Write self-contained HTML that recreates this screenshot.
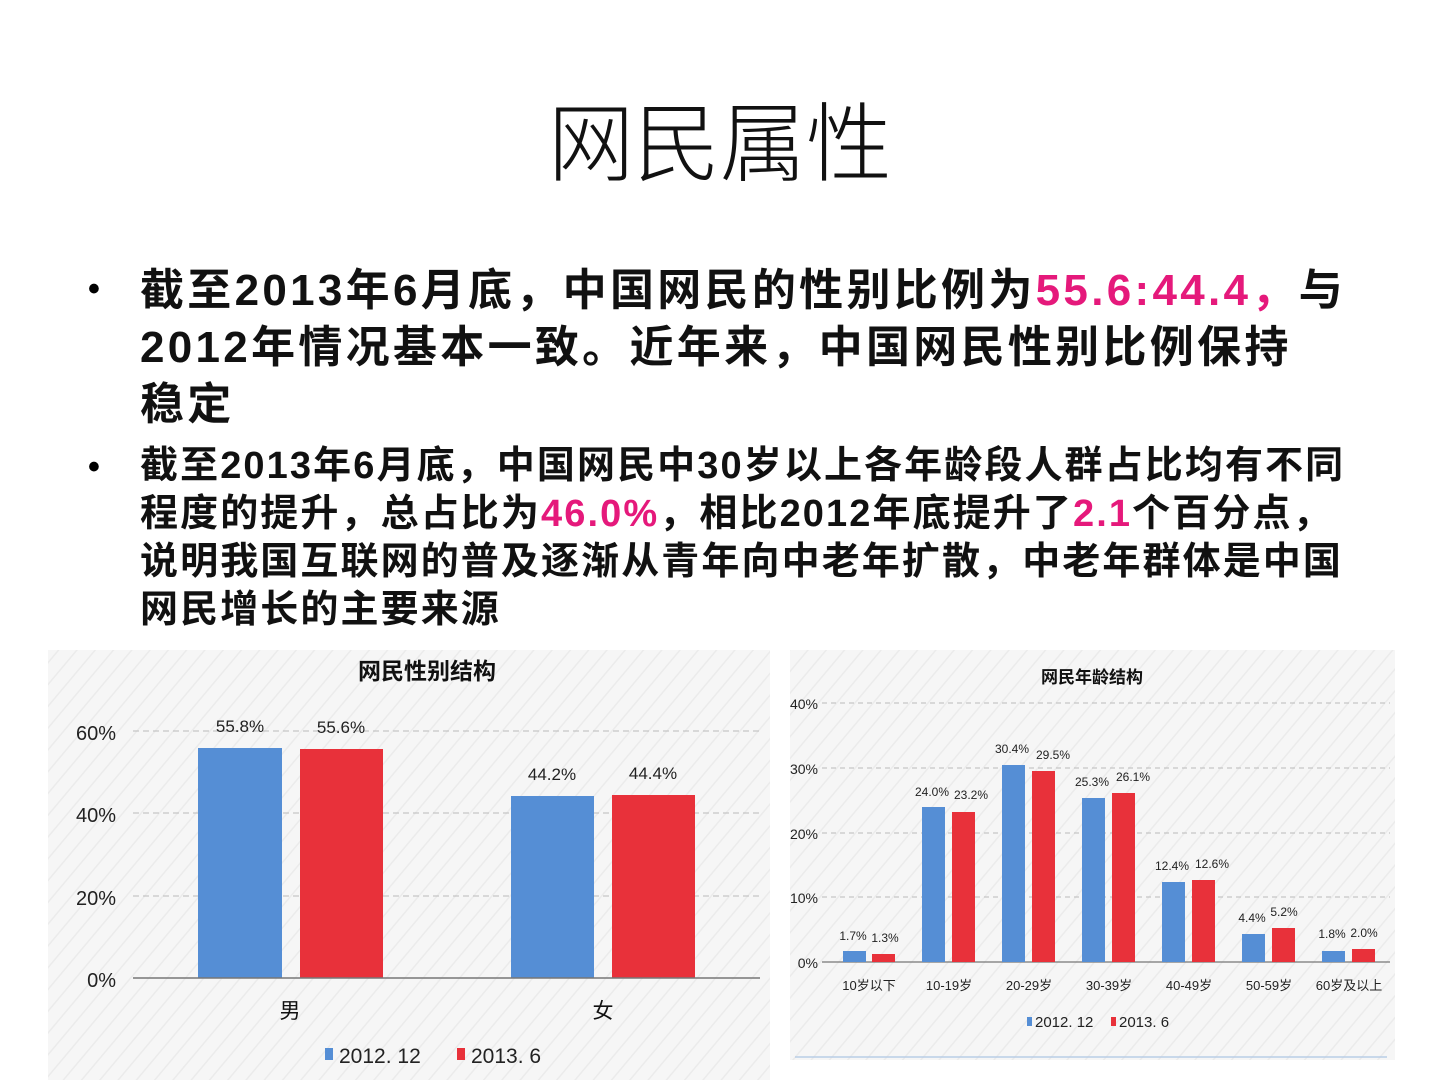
<!DOCTYPE html>
<html><head><meta charset="utf-8"><style>
body{margin:0;width:1440px;height:1080px;background:#fff;overflow:hidden;position:relative;font-family:"Liberation Sans","Noto Sans CJK SC",sans-serif}
.t{position:absolute;left:0;width:1440px;top:82px;text-align:center;font-size:86px;font-weight:300;color:#111;font-family:"Noto Sans CJK SC",sans-serif;line-height:110px}
.b{position:absolute;left:140px;color:#111;font-weight:bold;white-space:nowrap}
.b1{top:262px;font-size:44px;line-height:57px;letter-spacing:3.3px}
.b2{top:442px;font-size:38px;line-height:48px;letter-spacing:2.1px}
.d{position:absolute;left:88px;font-size:34px;font-weight:bold}
.p{color:#e5197b}
</style></head><body>
<div class="t">网民属性</div>
<div class="d" style="top:270px">•</div>
<div class="b b1">截至2013年6月底，中国网民的性别比例为<span class="p">55.6:44.4，</span>与<br>2012年情况基本一致。近年来，中国网民性别比例保持<br>稳定</div>
<div class="d" style="top:448px">•</div>
<div class="b b2">截至2013年6月底，中国网民中30岁以上各年龄段人群占比均有不同<br>程度的提升，总占比为<span class="p">46.0%</span>，相比2012年底提升了<span class="p">2.1</span>个百分点，<br>说明我国互联网的普及逐渐从青年向中老年扩散，中老年群体是中国<br>网民增长的主要来源</div>
<svg width="1440" height="1080" style="position:absolute;left:0;top:0" font-family="Liberation Sans,Noto Sans CJK SC,sans-serif">
<defs><pattern id="h" width="14" height="14" patternUnits="userSpaceOnUse" patternTransform="rotate(40)"><rect width="14" height="14" fill="#f6f6f6"/><line x1="0" y1="0" x2="0" y2="14" stroke="#ebebeb" stroke-width="3"/></pattern></defs>
<rect x="48" y="650" width="722" height="430" fill="url(#h)"/>
<rect x="790" y="650" width="605" height="410" fill="url(#h)"/>
<text x="427" y="679" font-size="23" font-weight="bold" text-anchor="middle" fill="#111">网民性别结构</text>
<g stroke="#bbb" stroke-dasharray="6,4"><line x1="133" y1="731" x2="760" y2="731"/><line x1="133" y1="813" x2="760" y2="813"/><line x1="133" y1="896" x2="760" y2="896"/></g>
<g font-size="20" fill="#222" text-anchor="end"><text x="116" y="740">60%</text><text x="116" y="822">40%</text><text x="116" y="905">20%</text><text x="116" y="987">0%</text></g>
<rect x="198" y="748" width="84" height="230" fill="#558ed5"/><rect x="300" y="749" width="83" height="229" fill="#e8313a"/>
<rect x="511" y="796" width="83" height="182" fill="#558ed5"/><rect x="612" y="795" width="83" height="183" fill="#e8313a"/>
<line x1="133" y1="978" x2="760" y2="978" stroke="#777" stroke-width="1.5"/>
<g font-size="17" fill="#222" text-anchor="middle"><text x="240" y="732">55.8%</text><text x="341" y="733">55.6%</text><text x="552" y="780">44.2%</text><text x="653" y="779">44.4%</text></g>
<g font-size="21" fill="#111" text-anchor="middle"><text x="290" y="1018">男</text><text x="603" y="1018">女</text></g>
<rect x="325" y="1048" width="8" height="12" fill="#558ed5"/><text x="339" y="1063" font-size="21" fill="#222">2012. 12</text>
<rect x="457" y="1048" width="8" height="12" fill="#e8313a"/><text x="471" y="1063" font-size="21" fill="#222">2013. 6</text>
<text x="1092" y="683" font-size="17" font-weight="bold" text-anchor="middle" fill="#111">网民年龄结构</text>
<g stroke="#bbb" stroke-dasharray="5,4"><line x1="822" y1="703" x2="1390" y2="703"/><line x1="822" y1="768" x2="1390" y2="768"/><line x1="822" y1="833" x2="1390" y2="833"/><line x1="822" y1="897" x2="1390" y2="897"/></g>
<g font-size="14" fill="#222" text-anchor="end"><text x="818" y="709">40%</text><text x="818" y="774">30%</text><text x="818" y="839">20%</text><text x="818" y="903">10%</text><text x="818" y="968">0%</text></g>
<line x1="822" y1="962" x2="1390" y2="962" stroke="#777" stroke-width="1.2"/>
<g font-size="12" fill="#222" text-anchor="middle">
<rect x="843" y="951" width="23" height="11" fill="#558ed5"/><rect x="872" y="954" width="23" height="8" fill="#e8313a"/><text x="853" y="940">1.7%</text><text x="885" y="942">1.3%</text><text x="869" y="990" font-size="13">10岁以下</text>
<rect x="922" y="807" width="23" height="155" fill="#558ed5"/><rect x="952" y="812" width="23" height="150" fill="#e8313a"/><text x="932" y="796">24.0%</text><text x="971" y="799">23.2%</text><text x="949" y="990" font-size="13">10-19岁</text>
<rect x="1002" y="765" width="23" height="197" fill="#558ed5"/><rect x="1032" y="771" width="23" height="191" fill="#e8313a"/><text x="1012" y="753">30.4%</text><text x="1053" y="759">29.5%</text><text x="1029" y="990" font-size="13">20-29岁</text>
<rect x="1082" y="798" width="23" height="164" fill="#558ed5"/><rect x="1112" y="793" width="23" height="169" fill="#e8313a"/><text x="1092" y="786">25.3%</text><text x="1133" y="781">26.1%</text><text x="1109" y="990" font-size="13">30-39岁</text>
<rect x="1162" y="882" width="23" height="80" fill="#558ed5"/><rect x="1192" y="880" width="23" height="82" fill="#e8313a"/><text x="1172" y="870">12.4%</text><text x="1212" y="868">12.6%</text><text x="1189" y="990" font-size="13">40-49岁</text>
<rect x="1242" y="934" width="23" height="28" fill="#558ed5"/><rect x="1272" y="928" width="23" height="34" fill="#e8313a"/><text x="1252" y="922">4.4%</text><text x="1284" y="916">5.2%</text><text x="1269" y="990" font-size="13">50-59岁</text>
<rect x="1322" y="951" width="23" height="11" fill="#558ed5"/><rect x="1352" y="949" width="23" height="13" fill="#e8313a"/><text x="1332" y="938">1.8%</text><text x="1364" y="937">2.0%</text><text x="1349" y="990" font-size="13">60岁及以上</text>
</g>
<rect x="1027" y="1017" width="5" height="9" fill="#558ed5"/><text x="1035" y="1027" font-size="15" fill="#222">2012. 12</text>
<rect x="1111" y="1017" width="5" height="9" fill="#e8313a"/><text x="1119" y="1027" font-size="15" fill="#222">2013. 6</text>
<line x1="795" y1="1057" x2="1387" y2="1057" stroke="#b9cde5" stroke-width="1.5"/>
</svg>
</body></html>
